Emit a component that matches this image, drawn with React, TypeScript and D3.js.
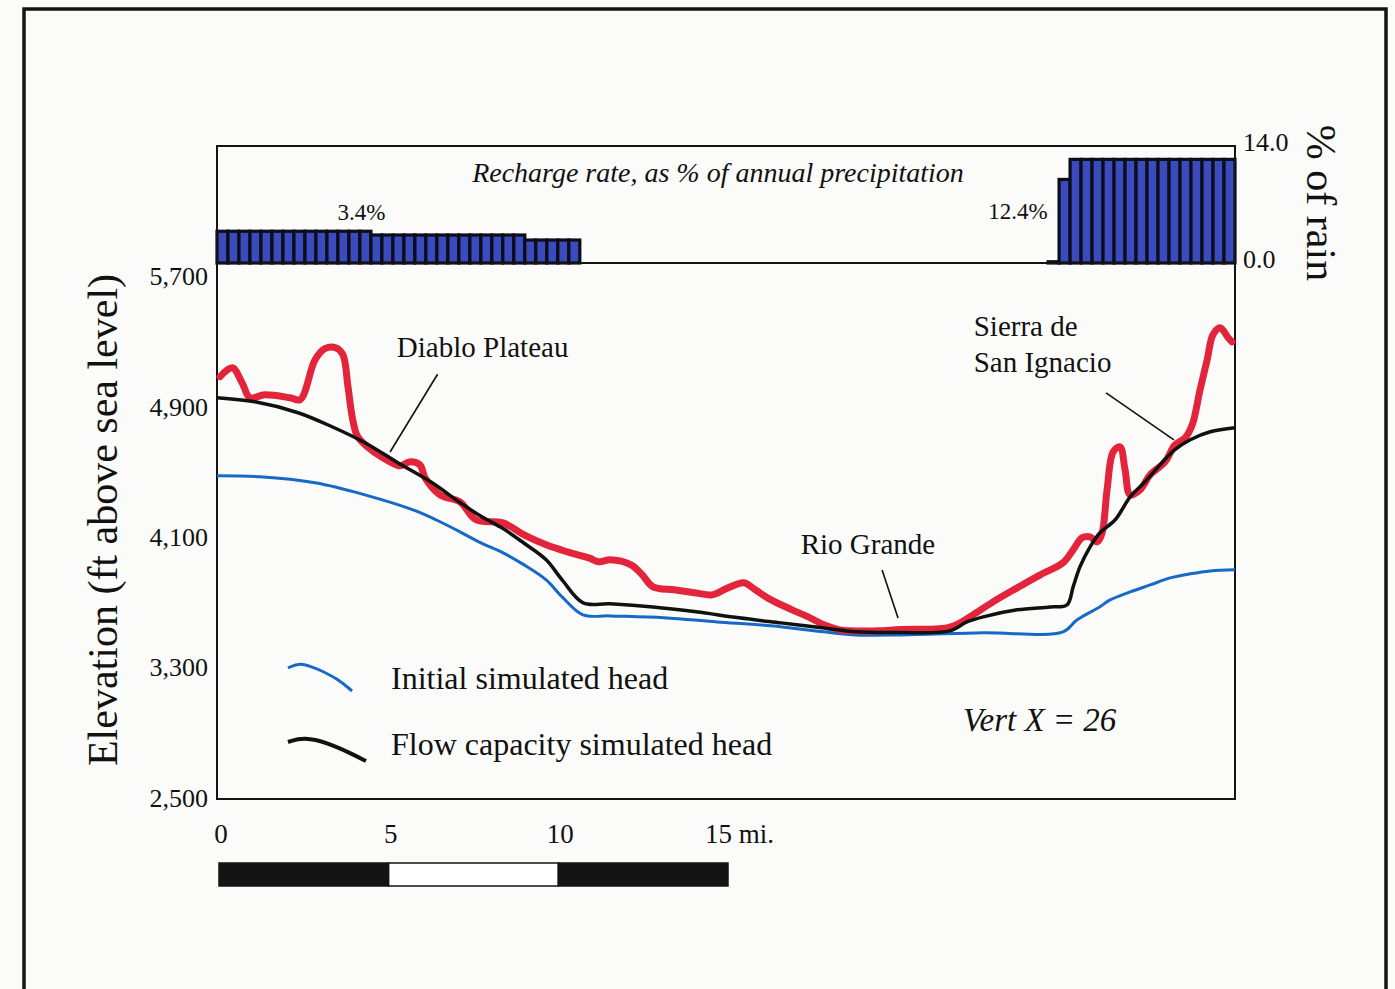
import React from "react";
import * as d3 from "d3";

// ---------- DATA ----------
// distance along section (mi), elevation (ft)
const landSurface: [number, number][] = [
  [0.09, 5092], [0.45, 5147], [0.75, 5050], [0.97, 4963], [1.41, 4981], [2.15, 4963],
  [2.45, 4951], [2.89, 5196], [3.18, 5264], [3.50, 5270], [3.71, 5227], [3.86, 5030],
  [4.0, 4828], [4.15, 4723], [4.66, 4625], [5.10, 4570], [5.39, 4545], [5.69, 4570],
  [5.98, 4551], [6.13, 4472], [6.57, 4367], [7.16, 4324], [7.63, 4214], [8.43, 4195],
  [9.05, 4121], [9.70, 4060], [10.32, 4017], [10.96, 3980], [11.26, 3956], [11.58, 3968],
  [12.20, 3937], [12.53, 3876], [12.85, 3802], [13.47, 3784], [14.12, 3765], [14.59, 3753],
  [15.06, 3796], [15.53, 3827], [15.86, 3784], [16.33, 3722], [16.95, 3661], [17.42, 3618],
  [17.89, 3569], [18.36, 3538], [19.48, 3532], [20.13, 3540], [21.51, 3550], [21.90, 3581],
  [22.28, 3630], [22.87, 3710], [23.58, 3796], [24.26, 3876], [24.93, 3950], [25.23, 4029],
  [25.49, 4103], [25.73, 4109], [25.94, 4078], [26.08, 4130], [26.23, 4398], [26.41, 4631],
  [26.61, 4662], [26.76, 4521], [26.91, 4367], [27.20, 4398], [27.50, 4490], [27.94, 4570],
  [28.23, 4674], [28.53, 4717], [28.74, 4797], [28.97, 5012], [29.18, 5196], [29.35, 5350],
  [29.56, 5393], [29.80, 5331], [29.91, 5307],
];

const flowCapacityHead: [number, number][] = [
  [0, 4963], [1.12, 4938], [2.39, 4871], [3.39, 4785], [4.36, 4687], [5.33, 4564],
  [6.34, 4441], [7.16, 4320], [7.78, 4235], [8.43, 4160], [9.05, 4070], [9.70, 3968],
  [10.17, 3845], [10.79, 3704], [11.58, 3698], [12.85, 3679], [14.12, 3649], [15.38, 3612],
  [16.62, 3581], [17.89, 3550], [18.83, 3526], [20.13, 3522], [21.60, 3532], [22.10, 3587],
  [22.58, 3618], [23.58, 3661], [24.55, 3679], [25.05, 3692], [25.23, 3802], [25.43, 3925],
  [25.73, 4048], [26.02, 4134], [26.47, 4214], [26.91, 4355], [27.35, 4447], [27.79, 4551],
  [28.23, 4644], [28.68, 4705], [29.27, 4754], [30.0, 4779],
];

const initialHead: [number, number][] = [
  [0, 4484], [1.27, 4478], [2.89, 4441], [4.36, 4367], [5.84, 4270], [6.45, 4214],
  [7.16, 4140], [7.78, 4072], [8.43, 4011], [9.05, 3937], [9.70, 3845], [10.17, 3741],
  [10.79, 3630], [11.58, 3624], [13.17, 3612], [14.74, 3587], [16.33, 3563], [17.89, 3526],
  [18.83, 3507], [20.13, 3507], [22.58, 3520], [24.93, 3526], [25.34, 3599], [26.02, 3680],
  [26.32, 3722], [26.91, 3771], [27.50, 3814], [28.09, 3857], [28.68, 3882], [29.27, 3900],
  [30.0, 3907],
];

// recharge (% of annual precipitation), one value per model cell
const cellWidthMi = 0.324;
const rechargeWest = [
  3.8, 3.8, 3.8, 3.8, 3.8, 3.8, 3.8, 3.8, 3.8, 3.8, 3.8, 3.8, 3.8, 3.8,
  3.35, 3.35, 3.35, 3.35, 3.35, 3.35, 3.35, 3.35, 3.35, 3.35, 3.35, 3.35, 3.35, 3.35,
  2.75, 2.75, 2.75, 2.75, 2.75,
];
const rechargeEast = [
  0.15, 10.0,
  12.4, 12.4, 12.4, 12.4, 12.4, 12.4, 12.4, 12.4, 12.4, 12.4, 12.4, 12.4, 12.4, 12.4, 12.4,
];

const elevTicks = [2500, 3300, 4100, 4900, 5700];
const rechargeTicks = [0, 14];
const distTicks = [0, 5, 10, 15];
const distTickLabels = ["0", "5", "10", "15 mi."];
const scaleBarSegments = [
  { from: 0, to: 5, fill: "#141414" },
  { from: 5, to: 10, fill: "#ffffff" },
  { from: 10, to: 15, fill: "#141414" },
];

const annotations = [
  { lines: ["Diablo Plateau"], at: [5.3, 5210], leader: [[6.5, 5107], [5.1, 4630]] },
  { lines: ["Sierra de", "San Ignacio"], at: [22.3, 5340], leader: [[26.2, 4993], [28.2, 4704]] },
  { lines: ["Rio Grande"], at: [17.2, 4005], leader: [[19.6, 3906], [20.07, 3611]] },
];

const legendItems = [
  { label: "Initial simulated head", color: "#1569c7", width: 3 },
  { label: "Flow capacity simulated head", color: "#111111", width: 4 },
];

// ---------- CHART ----------
const FONT = "'Liberation Serif', 'Times New Roman', serif";

export default function App() {
  const left = 217, right = 1235, top = 146, mid = 263, bottom = 799;
  const x = d3.scaleLinear().domain([0, 30]).range([left, right]);
  const y = d3.scaleLinear().domain([2500, 5790]).range([bottom, mid]);
  const yr = d3.scaleLinear().domain([0, 14]).range([mid, top]);

  const line = d3
    .line<[number, number]>()
    .x((d) => x(d[0]))
    .y((d) => y(d[1]))
    .curve(d3.curveCatmullRom.alpha(0.5));

  const fmt = d3.format(",");
  const cellPx = x(cellWidthMi) - x(0);

  const westCells = rechargeWest.map((v, i) => ({ x0: i * cellWidthMi, v }));
  const eastStart = 30 - rechargeEast.length * cellWidthMi;
  const eastCells = rechargeEast.map((v, i) => ({ x0: eastStart + i * cellWidthMi, v }));
  const cells = [...westCells, ...eastCells];

  const legendSample = d3
    .line<[number, number]>()
    .x((d) => d[0])
    .y((d) => d[1])
    .curve(d3.curveBasis);
  const blueShape: [number, number][] = [[0, 3], [12, -3], [30, 4], [50, 14], [64, 26]];
  const blackShape: [number, number][] = [[0, 3], [16, -2], [40, 4], [62, 14], [78, 22]];

  return (
    <svg
      width={1395}
      height={989}
      style={{ position: "absolute", left: 0, top: 0, background: "#fbfbfa" }}
      fontFamily={FONT}
    >
      {/* outer frame */}
      <rect x={24} y={9} width={1362} height={1000} fill="none" stroke="#141414" strokeWidth={3.5} />

      {/* recharge bars */}
      {cells.map((c, i) => (
        <rect
          key={i}
          x={x(c.x0)}
          y={yr(c.v)}
          width={cellPx}
          height={yr(0) - yr(c.v)}
          fill="#3a4bbd"
          stroke="#0d0d1a"
          strokeWidth={3.2}
        />
      ))}

      {/* plot frame */}
      <rect x={left} y={top} width={right - left} height={bottom - top} fill="none" stroke="#141414" strokeWidth={2} />
      <line x1={left} x2={right} y1={mid} y2={mid} stroke="#141414" strokeWidth={2} />

      {/* recharge labels */}
      <text x={718} y={182} textAnchor="middle" fontSize={28} fontStyle="italic" fill="#111">
        Recharge rate, as % of annual precipitation
      </text>
      <text x={x(3.55)} y={220} fontSize={23} fill="#111">3.4%</text>
      <text x={x(22.73)} y={219} fontSize={23} fill="#111">12.4%</text>
      {rechargeTicks.map((t) => (
        <text key={t} x={right + 8} y={yr(t)} dy="0.2em" fontSize={26} fill="#111">
          {t.toFixed(1)}
        </text>
      ))}
      <text transform={`translate(1307,203) rotate(90)`} textAnchor="middle" fontSize={42} fill="#111">
        % of rain
      </text>

      {/* elevation axis */}
      {elevTicks.map((t) => (
        <text key={t} x={208} y={y(t)} dy="0.3em" textAnchor="end" fontSize={26} fill="#111">
          {fmt(t)}
        </text>
      ))}
      <text transform={`translate(117,520) rotate(-90)`} textAnchor="middle" fontSize={42} fill="#111">
        Elevation (ft above sea level)
      </text>

      {/* profiles */}
      <path d={line(initialHead) || ""} fill="none" stroke="#1569c7" strokeWidth={3} />
      <path d={line(landSurface) || ""} fill="none" stroke="#e3253b" strokeWidth={7} strokeLinejoin="round" strokeLinecap="round" />
      <path d={line(flowCapacityHead) || ""} fill="none" stroke="#111" strokeWidth={3.5} />

      {/* annotations */}
      {annotations.map((a, i) => (
        <g key={i}>
          {a.lines.map((l, j) => (
            <text key={j} x={x(a.at[0])} y={y(a.at[1]) + j * 36} fontSize={29} fill="#111">
              {l}
            </text>
          ))}
          <line
            x1={x(a.leader[0][0])}
            y1={y(a.leader[0][1])}
            x2={x(a.leader[1][0])}
            y2={y(a.leader[1][1])}
            stroke="#111"
            strokeWidth={1.6}
          />
        </g>
      ))}

      {/* legend */}
      {legendItems.map((it, i) => (
        <g key={i} transform={`translate(288,${665 + i * 74})`}>
          <path
            d={legendSample(i === 0 ? blueShape : blackShape) || ""}
            fill="none"
            stroke={it.color}
            strokeWidth={it.width}
          />
          <text x={103} y={24 - i * 8} fontSize={32} fill="#111">
            {it.label}
          </text>
        </g>
      ))}

      <text x={963} y={731} fontSize={33} fontStyle="italic" fill="#111">
        Vert X = 26
      </text>

      {/* distance scale */}
      {distTicks.map((t, i) => (
        <text
          key={t}
          x={i === 3 ? x(t) - 21 : x(t) + 4}
          y={843}
          textAnchor={i === 3 ? "start" : "middle"}
          fontSize={27}
          fill="#111"
        >
          {distTickLabels[i]}
        </text>
      ))}
      {scaleBarSegments.map((s, i) => (
        <rect
          key={i}
          x={x(s.from) + 2}
          y={863}
          width={x(s.to) - x(s.from)}
          height={23}
          fill={s.fill}
          stroke="#141414"
          strokeWidth={1.5}
        />
      ))}
    </svg>
  );
}
